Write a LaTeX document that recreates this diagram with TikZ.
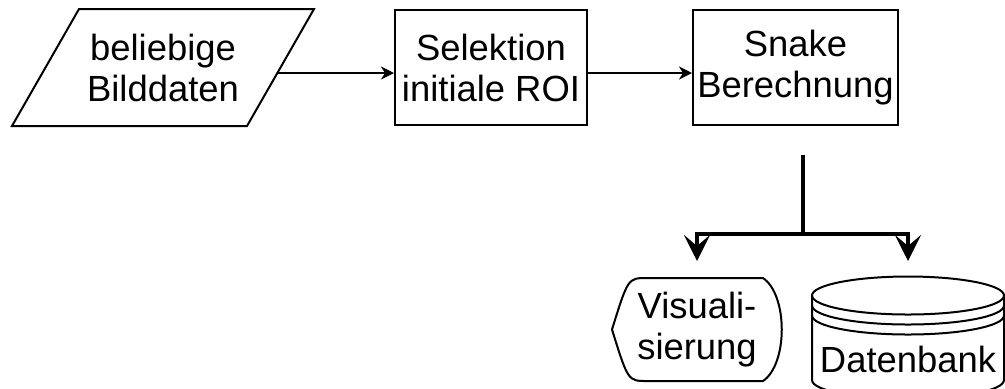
\documentclass[tikz,border=0pt]{standalone}
\usepackage{fontspec}
\setmainfont{Liberation Sans}
\usepackage{tikz}
\usetikzlibrary{arrows.meta}
\tikzstyle{io} = [minimum width=150pt, minimum height=57.5pt, inner sep=0pt, align=center]
\tikzstyle{arrow} = [line width=1pt,-{Stealth[length=6.5pt,width=6.5pt,inset=2pt]}]
\tikzset{
 b/.style
  = {rectangle, draw, minimum width=96pt, minimum height=57.5pt, inner sep=0pt,
     align=center},
 e/.style
  = {inner sep=0pt, align=center},
 l/.style
  = {draw, line width=2pt, shorten >=8pt,
     -{Stealth[length=13pt,width=13pt,inset=5.5pt]}},
}

\begin{document}
\begin{tikzpicture}[line width=1pt, x=0.5pt, y=-0.5pt,
    font=\fontsize{18.2}{20.5}\selectfont]

\useasboundingbox (0,0) rectangle (1005,388);

% Input data
\node[io] (in) at (163,67.5) {beliebige\\Bilddaten};
\draw ([xshift=33.5pt]in.north west) -- (in.north east)
  -- ([xshift=-33.5pt]in.south east) -- (in.south west) -- cycle;

% Selection
\node[b] (roi) at (491,67.5) {Selektion\\initiale ROI};

% Snake
\node[b, minimum width=102.5pt] (snake) at (795.5,67.5) {Snake\\Berechnung};

\draw[arrow] ([shift={(-36.5,5.5)}]in.east) -- ([shift={(0,5.5)}]roi.west);
\draw[arrow] ([shift={(0,5.5)}]roi.east) -- ([shift={(0,5.5)}]snake.west);

% Outputs
\coordinate (out) at (803,155);
\coordinate (fork) at (803,234);
\node[e, minimum width=85pt, minimum height=51.5pt] (vis) at (697,329.5) {Visuali-\\sierung};
\node[e, minimum width=96pt, minimum height=61.5pt] (db) at (908,337.5) {};
\node (dbtext) at (908,359) {Datenbank};

% Display outline
\draw (612,329.5) .. controls (628,278) .. (647,278) -- (763,278)
  .. controls (788,295) and (788,364) .. (763,381) -- (647,381)
  .. controls (628,381) .. (612,329.5) -- cycle;

% Database outline
\draw (812,295.5) arc[start angle=180, end angle=0, x radius=48pt, y radius=9.5pt]
  -- (1004,380) arc[start angle=0, end angle=-180, x radius=48pt, y radius=9.5pt]
  -- cycle;
\foreach \dy in {0,10,20}
  \draw (812,295.5+\dy) arc[start angle=180, end angle=360, x radius=48pt, y radius=9.5pt];

\draw[l] (out) -- (fork) -| (vis.north);
\draw[l, shorten >=7pt] (fork) -| (db.north);

\end{tikzpicture}
\end{document}
